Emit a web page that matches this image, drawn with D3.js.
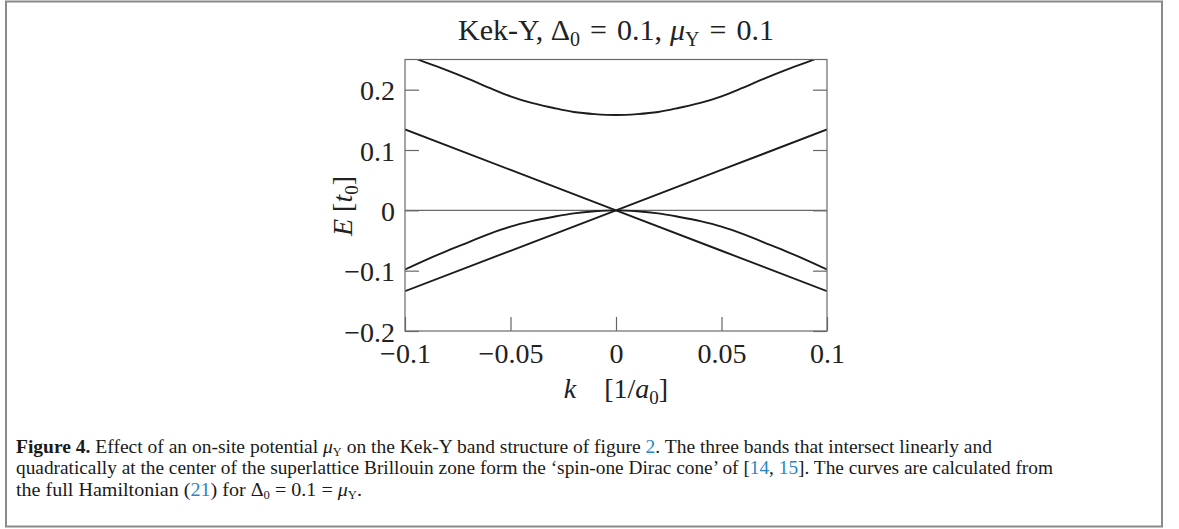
<!DOCTYPE html>
<html>
<head>
<meta charset="utf-8">
<script src="https://cdn.jsdelivr.net/npm/d3@7"></script>
<style>
  body { margin: 0; background: #fff; }
  svg { display: block; }
  .tick text { font-family: "Liberation Serif", serif; font-size: 28px; fill: #222; }
</style>
</head>
<body>
<div id="chart"></div>
<script>
// values
const kGrid = [-0.1, -0.09, -0.08, -0.07, -0.06, -0.05, -0.04, -0.03, -0.02, -0.01, 0,
               0.01, 0.02, 0.03, 0.04, 0.05, 0.06, 0.07, 0.08, 0.09, 0.1]
const upperBand = [0.258, 0.245, 0.232, 0.218, 0.203, 0.189, 0.178, 0.170, 0.163, 0.1595, 0.158,
                   0.1595, 0.163, 0.170, 0.178, 0.189, 0.203, 0.218, 0.232, 0.245, 0.258]
const flatBand = [-0.098, -0.082, -0.067, -0.053, -0.039, -0.027, -0.018, -0.011, -0.005, -0.0015, 0,
                  -0.0015, -0.005, -0.011, -0.018, -0.027, -0.039, -0.053, -0.067, -0.082, -0.098]
const coneK = [-0.1, 0, 0.1]
const coneUp = [-0.134, 0, 0.134]
const coneDown = [0.134, 0, -0.134]

const xTicks = [-0.1, -0.05, 0, 0.05, 0.1]
const xTickLabels = ['\u22120.1', '\u22120.05', '0', '0.05', '0.1']
const yTicks = [-0.2, -0.1, 0, 0.1, 0.2]
const yTickLabels = ['\u22120.2', '\u22120.1', '0', '0.1', '0.2']

const W = 1179, H = 529
const plotL = 405, plotR = 827, plotT = 59.5, plotB = 331
const tickLen = 14

const svg = d3.select('#chart').append('svg')
  .attr('width', W).attr('height', H)

// outer figure frame
svg.append('rect')
  .attr('x', 6).attr('y', 1.5).attr('width', 1156).attr('height', 525)
  .attr('fill', 'none').attr('stroke', '#8a8a8a').attr('stroke-width', 2)

const x = d3.scaleLinear().domain([-0.1, 0.1]).range([plotL, plotR])
const y = d3.scaleLinear().domain([-0.2, 0.25]).range([plotB, plotT])

svg.append('clipPath').attr('id', 'plotclip')
  .append('rect')
  .attr('x', plotL).attr('y', plotT).attr('width', plotR - plotL).attr('height', plotB - plotT)

// axes (inward ticks)
const axisL = svg.append('g').attr('transform', `translate(${plotL},0)`)
  .call(d3.axisLeft(y).tickValues(yTicks).tickSize(-tickLen).tickPadding(10)
    .tickFormat((d, i) => yTickLabels[i]))
const axisR = svg.append('g').attr('transform', `translate(${plotR},0)`)
  .call(d3.axisRight(y).tickValues(yTicks).tickSize(-tickLen).tickFormat(''))
const axisB = svg.append('g').attr('transform', `translate(0,${plotB})`)
  .call(d3.axisBottom(x).tickValues(xTicks).tickSize(-tickLen).tickPadding(12)
    .tickFormat((d, i) => xTickLabels[i]))

;[axisL, axisR, axisB].forEach(g => {
  g.select('.domain').remove()
  g.selectAll('.tick line').attr('stroke', '#666').attr('stroke-width', 1.2)
})
axisL.selectAll('.tick text').attr('dy', '0.36em')
axisB.selectAll('.tick text').attr('dy', '0.72em')

// zero line
svg.append('line')
  .attr('x1', plotL).attr('x2', plotR).attr('y1', y(0)).attr('y2', y(0))
  .attr('stroke', '#6a6a6a').attr('stroke-width', 1.2)

// bands
const line = d3.line()
  .x(d => x(d[0])).y(d => y(d[1]))
  .curve(d3.curveMonotoneX)

const bands = [
  d3.zip(kGrid, upperBand),
  d3.zip(kGrid, flatBand),
  d3.zip(coneK, coneUp),
  d3.zip(coneK, coneDown)
]
svg.append('g').attr('clip-path', 'url(#plotclip)')
  .selectAll('path')
  .data(bands)
  .enter()
  .append('path')
  .attr('d', line)
  .attr('fill', 'none')
  .attr('stroke', '#1c1c1c')
  .attr('stroke-width', 1.9)

// plot frame
svg.append('rect')
  .attr('x', plotL).attr('y', plotT).attr('width', plotR - plotL).attr('height', plotB - plotT)
  .attr('fill', 'none').attr('stroke', '#6a6a6a').attr('stroke-width', 1.2)

const serif = '"Liberation Serif", serif'

// writes a list of {t, i, b, sub, link, dx} pieces into a text element
function richText (el, parts, subSize, subShift) {
  parts.forEach(p => {
    const s = el.append('tspan').text(p.t)
    if (p.b) s.attr('font-weight', 'bold')
    if (p.i) s.attr('font-style', 'italic')
    if (p.link) s.attr('fill', '#2b86c4')
    if (p.dx) s.attr('dx', p.dx)
    if (p.sub) s.attr('font-size', subSize).attr('baseline-shift', -subShift)
  })
}

// title (math spacing around "=")
const title = svg.append('text')
  .attr('x', (plotL + plotR) / 2).attr('y', 40)
  .attr('text-anchor', 'middle')
  .attr('font-family', serif).attr('font-size', 30).attr('fill', '#222')
richText(title, [
  { t: 'Kek-Y, \u0394' }, { t: '0', sub: true }, { t: '=', dx: 10 }, { t: '0.1,', dx: 10 },
  { t: '\u03bc', i: true, dx: 8 }, { t: 'Y', sub: true }, { t: '=', dx: 10 }, { t: '0.1', dx: 10 }
], 20, 6)

// y label
const ylab = svg.append('text')
  .attr('transform', 'translate(352,206) rotate(-90)')
  .attr('text-anchor', 'middle')
  .attr('font-family', serif).attr('font-size', 28).attr('fill', '#222')
richText(ylab, [
  { t: 'E', i: true }, { t: ' [' }, { t: 't', i: true }, { t: '0', sub: true }, { t: ']' }
], 19, 6)

// x label
const xlab = svg.append('text')
  .attr('x', 616).attr('y', 398)
  .attr('text-anchor', 'middle')
  .attr('font-family', serif).attr('font-size', 28).attr('fill', '#222')
richText(xlab, [
  { t: 'k', i: true }, { t: '\u2003[1/' }, { t: 'a', i: true }, { t: '0', sub: true }, { t: ']' }
], 19, 6)

// caption
const captionLines = [
  { y: 452.5, len: 976, parts: [
    { t: 'Figure\u00a04.', b: true }, { t: ' Effect of an on-site potential ' },
    { t: '\u03bc', i: true }, { t: 'Y', sub: true },
    { t: ' on the Kek-Y band structure of figure ' }, { t: '2', link: true },
    { t: '. The three bands that intersect linearly and' } ] },
  { y: 474, len: 1037, parts: [
    { t: 'quadratically at the center of the superlattice Brillouin zone form the \u2018spin-one Dirac cone\u2019 of [' },
    { t: '14', link: true }, { t: ', ' }, { t: '15', link: true },
    { t: ']. The curves are calculated from' } ] },
  { y: 496, len: 346, parts: [
    { t: 'the full Hamiltonian (' }, { t: '21', link: true }, { t: ') for \u0394' },
    { t: '0', sub: true }, { t: ' = 0.1 = ' }, { t: '\u03bc', i: true }, { t: 'Y', sub: true },
    { t: '.' } ] }
]
captionLines.forEach(ln => {
  const t = svg.append('text')
    .attr('x', 16).attr('y', ln.y)
    .attr('font-family', serif).attr('font-size', 19).attr('fill', '#1a1a1a')
    .attr('textLength', ln.len).attr('lengthAdjust', 'spacingAndGlyphs')
  richText(t, ln.parts, 12, 2.5)
})
</script>
</body>
</html>
